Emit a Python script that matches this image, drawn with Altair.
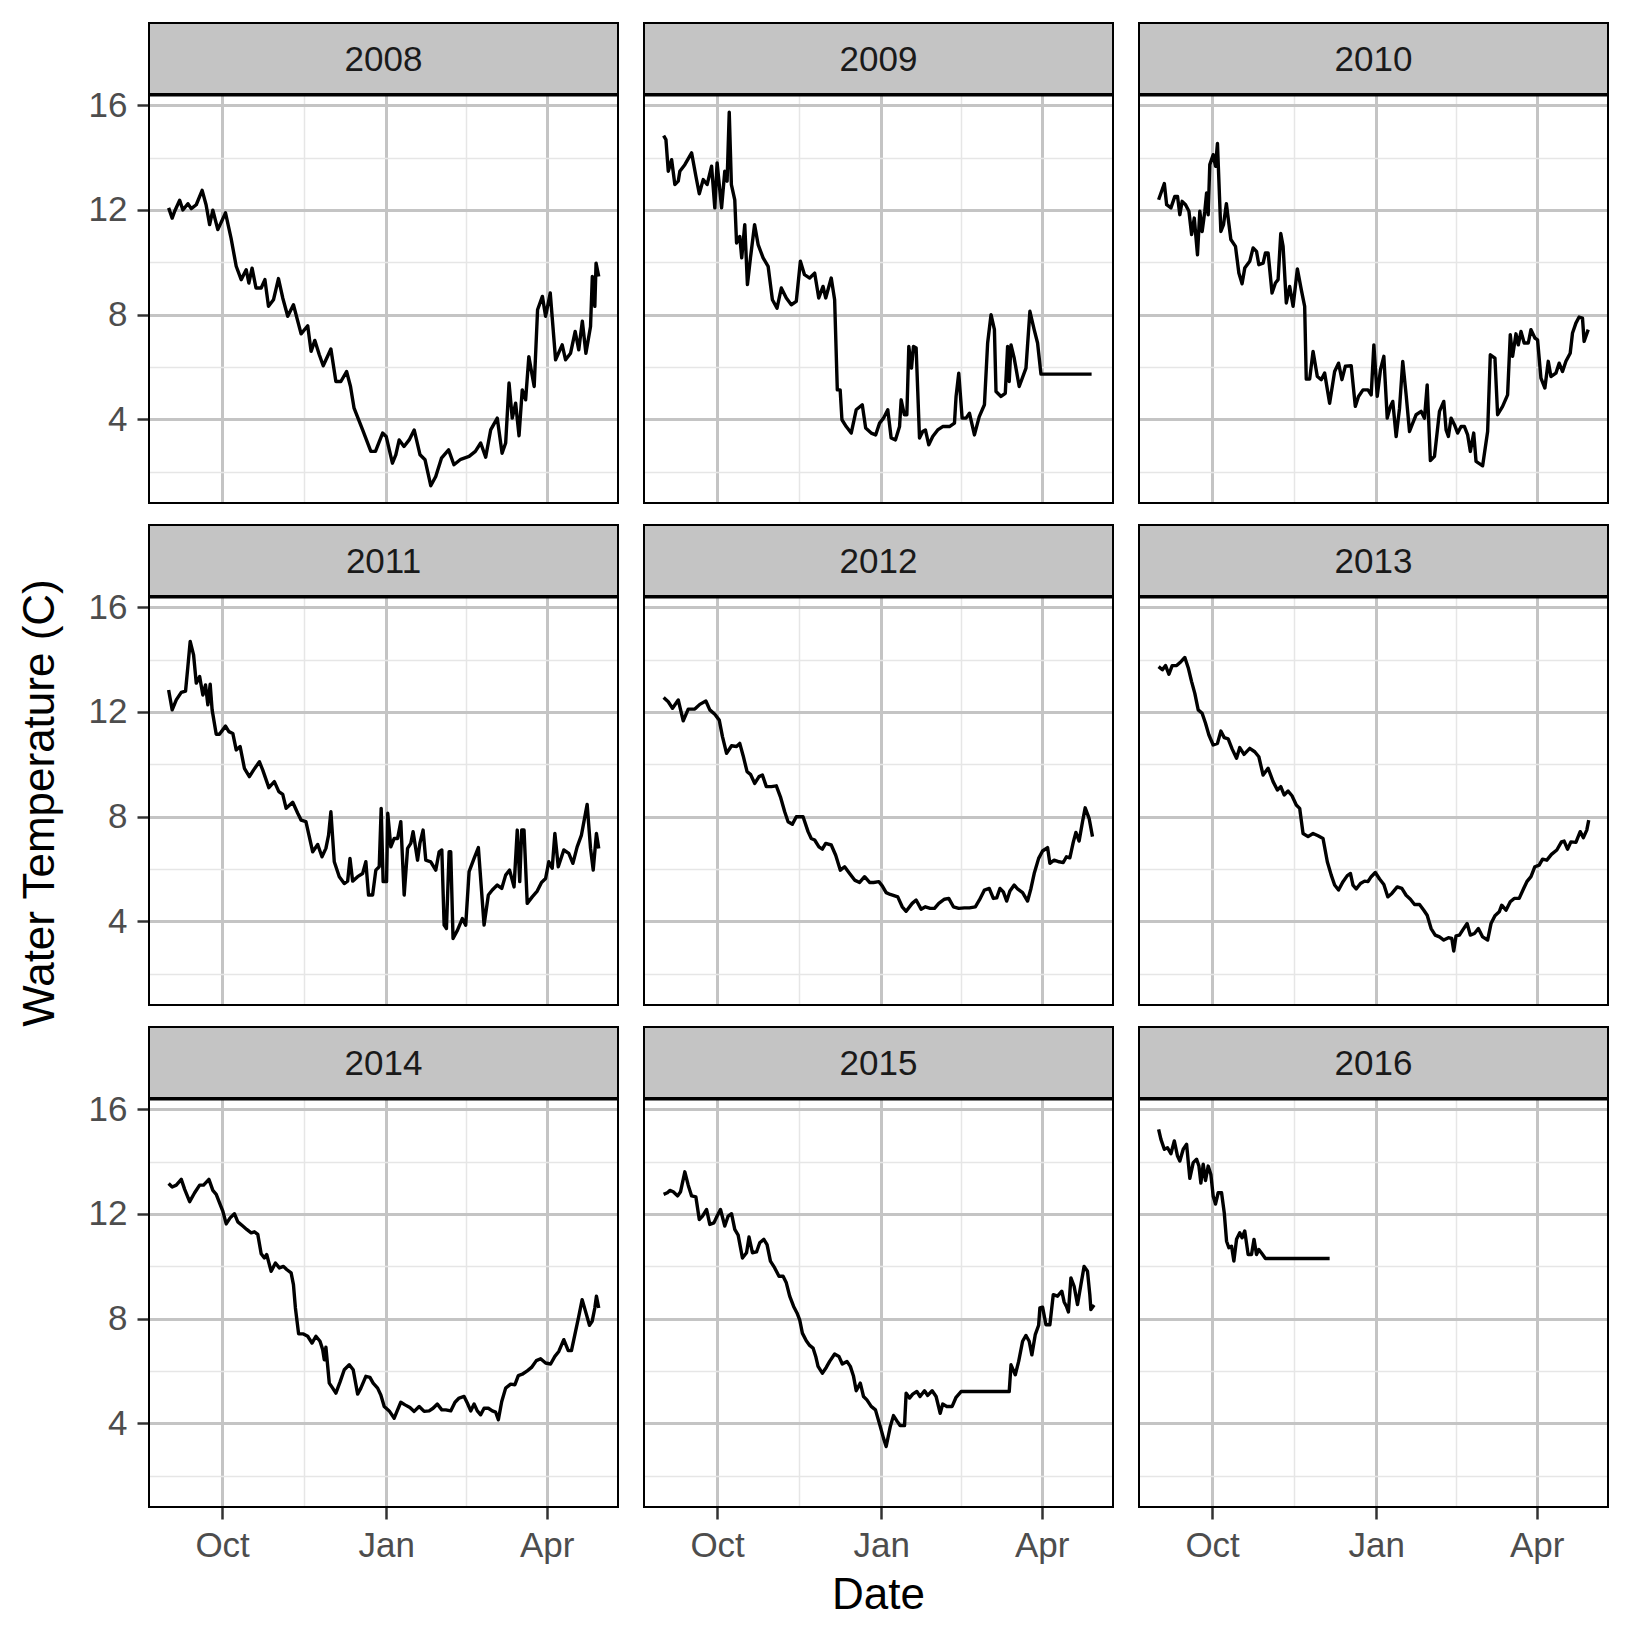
import altair as alt
import pandas as pd

# ---- data: (days since 1 Sep, water temperature C) ----
years = ["2008", "2009", "2010", "2011", "2012", "2013", "2014", "2015", "2016"]

series_2008 = [(0, 12.08), (2, 11.69), (3.4, 11.95), (6.2, 12.37), (8, 12.0), (10.8, 12.24), (12.7, 12.05),
               (15.5, 12.2), (18.8, 12.75), (21, 12.2), (23, 11.44), (24.8, 11.99), (27.6, 11.25), (31.9, 11.89),
               (35, 10.93), (37.9, 9.85), (40.7, 9.34), (43.5, 9.72), (45, 9.21), (46.8, 9.78), (49, 9.02),
               (51.9, 9.02), (54, 9.34), (56, 8.32), (58.8, 8.57), (61.6, 9.38), (64, 8.64), (66.8, 7.94),
               (70, 8.38), (74.3, 7.27), (78, 7.58), (79.9, 6.6), (82, 7.02), (84.5, 6.47), (86.7, 6.05),
               (91, 6.69), (93.8, 5.45), (96.6, 5.45), (99.8, 5.83), (102, 5.26), (104, 4.43), (108.8, 3.6),
               (113.4, 2.78), (116, 2.78), (120, 3.48), (122, 3.35), (125.5, 2.33), (127.4, 2.65), (129.3, 3.22),
               (132, 2.97), (134.9, 3.22), (137.7, 3.6), (141, 2.65), (143.8, 2.46), (147, 1.47), (149.8, 1.82),
               (153, 2.52), (157, 2.84), (160, 2.27), (163.8, 2.48), (168.5, 2.59), (172, 2.78), (175, 3.1),
               (177.8, 2.56), (180.6, 3.6), (184.3, 4.05), (187, 2.71), (189, 3.1), (190.9, 5.39), (192.7, 4.05),
               (194.6, 4.62), (196.5, 3.38), (198.3, 5.13), (200.2, 4.75), (202, 6.4), (205, 5.26), (206.9, 8.19),
               (209.6, 8.7), (211.4, 7.94), (214, 8.83), (217, 6.28), (220.7, 6.85), (222.6, 6.28), (225.4, 6.53),
               (228, 7.36), (230, 6.66), (232, 7.75), (234, 6.53), (236.6, 7.55), (237.6, 9.46), (239, 8.32),
               (239.7, 9.97), (241.2, 9.46)]

series_2009 = [(0, 14.84), (1.3, 14.69), (2.6, 13.48), (4.5, 13.92), (6.3, 12.97), (8.2, 13.1), (9.1, 13.48),
               (11.9, 13.73), (15.7, 14.18), (18.1, 13.29), (20, 12.62), (22.2, 13.16), (24.4, 12.97), (26.9, 13.67),
               (28.7, 12.08), (30, 13.8), (32.5, 12.08), (34.3, 13.48), (35.6, 13.1), (36.8, 15.73), (38, 12.97),
               (39.9, 12.39), (40.9, 10.74), (42.7, 10.99), (43.8, 10.17), (45.5, 11.44), (47, 9.15), (48.7, 10.17),
               (51, 11.44), (53, 10.68), (55.8, 10.17), (58.6, 9.85), (61, 8.57), (63.6, 8.25), (66, 9.02),
               (68.8, 8.64), (71.6, 8.38), (74.4, 8.51), (76.7, 10.04), (79, 9.53), (81.9, 9.4), (84.7, 9.59),
               (87, 8.64), (89.4, 9.08), (90.9, 8.64), (94, 9.4), (95.9, 8.57), (97.4, 5.13), (99, 5.13), (100, 3.99),
               (102.4, 3.73), (105.2, 3.48), (108, 4.37), (111.4, 4.56), (113.3, 3.67), (116.4, 3.48), (118.9, 3.41),
               (121.1, 3.86), (123.3, 4.05), (125.7, 4.37), (127.6, 3.29), (130, 3.22), (132.3, 3.73), (133.2, 4.75),
               (135, 4.18), (136.4, 4.18), (137.5, 6.79), (139, 5.96), (140.1, 6.79), (141.6, 6.73), (143.5, 3.29),
               (145.3, 3.54), (146.8, 3.6), (148.7, 3.03), (150.9, 3.35), (153.7, 3.6), (156.5, 3.73), (160.3, 3.73),
               (163.1, 3.86), (164, 4.88), (165.5, 5.77), (167.4, 4.05), (169.6, 4.05), (171.5, 4.24), (174.3, 3.41),
               (177, 4.11), (179.9, 4.56), (181.7, 6.92), (183.6, 8.0), (185.5, 7.43), (186.4, 5.07), (189.2, 4.88),
               (191.6, 5.0), (192.9, 6.79), (193.8, 5.45), (194.8, 6.85), (196.6, 6.34), (199.4, 5.26), (203.2, 5.96),
               (205.4, 8.13), (207.8, 7.43), (209.7, 6.92), (211.6, 5.73), (240, 5.73)]

series_2010 = [(0, 12.39), (3.2, 13.01), (4.5, 12.2), (6.9, 12.08), (9.1, 12.52), (10.6, 12.52), (11.9, 11.82),
               (13.2, 12.33), (15.1, 12.2), (17, 11.95), (18.5, 11.06), (20, 11.69), (21.8, 10.29), (23.1, 11.95),
               (24.4, 11.18), (25.9, 11.95), (26.9, 12.65), (27.8, 11.82), (28.7, 13.73), (30.6, 14.11), (31.9, 13.67),
               (33, 14.54), (34.9, 11.18), (36.4, 11.44), (38, 12.24), (40.5, 10.87), (43.1, 10.61), (45, 9.59),
               (46.8, 9.18), (48.3, 9.78), (51.1, 10.04), (53, 10.55), (54.9, 10.42), (56.2, 9.91), (58.6, 9.97),
               (59.9, 10.36), (61.4, 10.36), (63.6, 8.83), (65.5, 9.21), (67, 9.34), (68.5, 11.1), (69.8, 10.61),
               (71.6, 8.45), (73.5, 9.08), (75.4, 8.32), (77.8, 9.75), (80, 8.96), (81.9, 8.32), (82.8, 5.54),
               (84.7, 5.54), (86.6, 6.6), (89, 5.64), (91.2, 5.52), (93.1, 5.77), (95.9, 4.62), (98.7, 5.83),
               (100.9, 6.15), (102.8, 5.52), (104.7, 6.03), (108, 6.05), (110.3, 4.5), (112.1, 4.88), (114.6, 5.13),
               (117.4, 5.13), (119.2, 4.94), (120.7, 6.85), (122.6, 4.88), (124.4, 5.9), (126.3, 6.41), (128.2, 4.05),
               (130, 4.5), (131.3, 4.69), (133.2, 3.35), (135.1, 4.43), (136.9, 6.22), (138.8, 4.94), (140.7, 3.54),
               (142.5, 3.86), (144.4, 4.18), (147.2, 4.31), (149.1, 4.05), (150.6, 5.32), (152.4, 2.43), (154.7, 2.59),
               (157.5, 4.31), (159.9, 4.69), (161.2, 3.6), (162.5, 3.35), (164, 4.05), (165.9, 3.8), (167.7, 3.48),
               (169.6, 3.73), (171.5, 3.73), (173.3, 3.41), (174.8, 2.78), (176.7, 3.48), (178, 2.4), (181.7, 2.23),
               (184.5, 3.54), (186, 6.47), (188.6, 6.34), (190.1, 4.18), (192.9, 4.5), (195.7, 4.94), (197.2, 7.24),
               (198.5, 6.41), (200.4, 7.27), (201.7, 6.85), (203.2, 7.36), (205, 6.92), (207.3, 6.92), (208.8, 7.43),
               (211, 7.11), (212.5, 7.04), (214.4, 5.58), (216.6, 5.2), (218.5, 6.22), (220, 5.64), (222.8, 5.77),
               (224.6, 6.15), (226.5, 5.83), (228.4, 6.22), (230.8, 6.53), (232.1, 7.3), (234, 7.68), (235.8, 7.91),
               (237.7, 7.87), (238.6, 6.98), (240.9, 7.43)]

series_2011 = [(0, 12.84), (2, 12.08), (4.3, 12.46), (7.1, 12.75), (9.5, 12.8), (10.8, 13.73), (12.1, 14.69),
               (14, 14.18), (15.5, 13.1), (17.4, 13.35), (19.2, 12.65), (20.7, 13.03), (22, 12.27), (23.3, 13.06),
               (24.4, 12.08), (26.7, 11.15), (28.5, 11.15), (31.9, 11.46), (33.8, 11.25), (36, 11.18), (37.9, 10.55),
               (40.1, 10.68), (42.5, 9.85), (45.3, 9.53), (47.6, 9.78), (50.9, 10.1), (52.8, 9.78), (56.2, 9.11),
               (59.3, 9.34), (61.8, 8.96), (64, 8.85), (65.9, 8.32), (69.6, 8.55), (72.4, 8.13), (74.3, 7.87),
               (77, 7.81), (80.8, 6.66), (83.6, 6.94), (86, 6.47), (88.2, 6.79), (89.7, 7.3), (91, 8.19), (92.9, 6.28),
               (95.7, 5.71), (98.5, 5.45), (100.4, 5.54), (101.7, 6.41), (103.2, 5.54), (106, 5.71), (108.8, 5.83),
               (110.6, 6.28), (112.1, 5.01), (114.4, 5.01), (116.2, 5.96), (118.1, 6.09), (119.2, 8.32), (120.3, 5.52),
               (122.2, 5.52), (122.9, 8.13), (124.6, 6.85), (126.5, 7.17), (128.4, 7.17), (130.2, 7.81), (132.1, 5.01),
               (134, 6.79), (135.8, 6.98), (137.1, 7.43), (139.6, 6.34), (140.9, 6.98), (142.7, 7.49), (144.2, 6.34),
               (147, 6.28), (149.8, 5.96), (151.7, 6.66), (153.2, 6.73), (154.5, 3.86), (155.8, 3.73), (157.3, 6.66),
               (158.2, 6.66), (159.5, 3.35), (162, 3.67), (164.7, 4.11), (166.6, 3.86), (168.5, 5.9), (171.3, 6.41),
               (173.7, 6.82), (176.9, 3.86), (179.3, 5.01), (181.5, 5.2), (184.3, 5.39), (186.8, 5.26), (189, 5.77),
               (191.2, 5.96), (193.7, 5.32), (195.5, 7.49), (196.9, 5.52), (198, 7.49), (199.3, 7.49), (201.1, 4.69),
               (203.9, 4.94), (206.7, 5.16), (209.1, 5.49), (211.4, 5.64), (213.2, 6.28), (215.1, 6.03), (216.6, 7.36),
               (218.5, 6.09), (221.6, 6.73), (224.4, 6.6), (226.7, 6.22), (229.1, 6.85), (231.5, 7.3), (234.7, 8.47),
               (236.6, 6.79), (238.1, 5.96), (239.9, 7.36), (241.2, 6.79)]

series_2012 = [(0, 12.55), (2.6, 12.39), (5, 12.14), (8.2, 12.46), (11, 11.66), (13.8, 12.11), (17.5, 12.11),
               (20.3, 12.29), (23.7, 12.42), (25.9, 12.08), (28.7, 11.91), (31.2, 11.69), (33, 11.06), (35.3, 10.42),
               (38.1, 10.71), (40.9, 10.68), (42.7, 10.8), (44.6, 10.33), (46.8, 9.72), (48.7, 9.62), (51.1, 9.27),
               (53.5, 9.53), (55.4, 9.59), (57.6, 9.15), (60.4, 9.15), (63.2, 9.18), (65.5, 8.76), (67.9, 8.19),
               (69.8, 7.81), (72.2, 7.71), (74.4, 8.0), (78.2, 8.0), (81, 7.43), (82.8, 7.17), (84.7, 7.11),
               (87.1, 6.85), (89, 6.76), (90.9, 6.98), (94, 6.92), (96.5, 6.53), (99.1, 5.96), (101.5, 6.09),
               (104.3, 5.83), (107.1, 5.58), (109.9, 5.49), (112.7, 5.71), (115.5, 5.49), (117.7, 5.49), (120.7, 5.52),
               (122.6, 5.36), (124.8, 5.1), (127.1, 5.03), (131.3, 4.94), (133.8, 4.56), (136, 4.39), (139.4, 4.69),
               (141.6, 4.82), (144.4, 4.47), (146.8, 4.56), (149.5, 4.5), (151.9, 4.5), (154.3, 4.69), (157.5, 4.85),
               (159.9, 4.88), (162.5, 4.56), (165.5, 4.5), (168.7, 4.52), (171.5, 4.52), (174.8, 4.56), (177.1, 4.82),
               (179.9, 5.2), (182.6, 5.26), (184.9, 4.88), (186.8, 4.9), (188.6, 5.26), (190.5, 5.13), (192.4, 4.78),
               (194.2, 5.16), (196.6, 5.39), (198.5, 5.24), (201.3, 5.1), (204.1, 4.78), (206, 5.26), (207.8, 5.83),
               (210.3, 6.41), (212.5, 6.69), (215.3, 6.82), (216.6, 6.22), (219, 6.34), (221.8, 6.28), (224.1, 6.25),
               (225.9, 6.47), (227.8, 6.43), (229.7, 7.02), (231.2, 7.4), (233, 7.07), (234.9, 7.81), (236.4, 8.34),
               (238.6, 7.94), (240.5, 7.24)]

series_2013 = [(0, 13.73), (2.1, 13.61), (3.9, 13.77), (5.8, 13.44), (7.6, 13.77), (10.1, 13.77), (12.5, 13.92),
               (14.7, 14.08), (16.6, 13.69), (18.5, 13.16), (20.3, 12.71), (22.2, 12.08), (24.4, 11.95), (26.3, 11.57),
               (28.2, 11.12), (30.6, 10.74), (33, 10.8), (34.9, 11.27), (36.8, 11.02), (39, 10.97), (41.2, 10.59),
               (43.7, 10.23), (45.5, 10.64), (47.9, 10.38), (51.1, 10.61), (53.9, 10.48), (56.2, 10.29), (58.6, 9.59),
               (61.4, 9.85), (64.2, 9.34), (66.6, 9.02), (68.5, 9.15), (70.4, 8.83), (72.6, 8.98), (74.8, 8.8),
               (77.2, 8.45), (79.1, 8.32), (81, 7.36), (83.8, 7.24), (86.6, 7.36), (89.4, 7.27), (92.2, 7.17),
               (94.6, 6.28), (96.8, 5.77), (98.7, 5.39), (100.9, 5.2), (103.4, 5.52), (105.8, 5.75), (107.6, 5.83),
               (109, 5.39), (110.8, 5.24), (113.2, 5.45), (115.5, 5.54), (117.4, 5.52), (119.2, 5.71), (121.5, 5.87),
               (123.9, 5.62), (126.3, 5.41), (128.5, 4.94), (130.8, 5.07), (133.8, 5.32), (136.4, 5.26), (138.8, 5.0),
               (141.2, 4.85), (143.5, 4.65), (146.3, 4.65), (148.7, 4.43), (150.6, 4.24), (152.8, 3.73), (155.1, 3.48),
               (157.5, 3.41), (159.9, 3.29), (162.5, 3.38), (164.4, 3.35), (165.5, 2.87), (166.8, 3.45), (168.7, 3.48),
               (170.5, 3.67), (173, 3.92), (174.8, 3.48), (177.1, 3.54), (179.3, 3.73), (181.7, 3.41), (184.5, 3.29),
               (186.4, 3.92), (188.6, 4.22), (191, 4.37), (192.4, 4.62), (194.8, 4.43), (197.2, 4.75), (199.4, 4.88),
               (202.2, 4.88), (204.7, 5.26), (206.5, 5.52), (208.8, 5.71), (211, 6.09), (213.4, 6.15), (215.3, 6.38),
               (217.7, 6.34), (220.3, 6.56), (223.3, 6.73), (225.9, 7.04), (227.4, 7.07), (229.3, 6.76), (231.2, 7.04),
               (234, 7.02), (236.4, 7.43), (238.2, 7.2), (240.1, 7.49), (241.2, 7.87)]

series_2014 = [(0, 13.16), (2, 13.03), (4.3, 13.1), (7.1, 13.32), (9, 12.94), (11.8, 12.47), (14.6, 12.81),
               (17.4, 13.1), (19.6, 13.1), (22.6, 13.32), (24.8, 12.9), (26.7, 12.75), (28.5, 12.43), (30.4, 12.11),
               (32.3, 11.62), (34.5, 11.85), (36.9, 12.01), (38.8, 11.7), (41.6, 11.54), (43.8, 11.41), (46.3, 11.28),
               (48.1, 11.32), (50, 11.22), (51.9, 10.48), (53.7, 10.32), (55, 10.45), (57.5, 9.81), (59.9, 10.13),
               (62.1, 9.94), (64.4, 10.0), (66.2, 9.88), (68.7, 9.75), (70, 9.3), (71.1, 8.41), (72.9, 7.42),
               (75.6, 7.42), (78, 7.33), (80.4, 7.07), (82.6, 7.33), (84.9, 7.14), (86.4, 6.82), (87.3, 6.43),
               (88.2, 6.91), (90.1, 5.54), (92, 5.35), (93.8, 5.16), (96.1, 5.58), (98.5, 6.05), (101.3, 6.24),
               (103.5, 6.05), (106, 5.12), (107.8, 5.35), (110.6, 5.8), (112.9, 5.76), (114.7, 5.54), (117.2, 5.35),
               (119, 5.09), (120.9, 4.65), (123.7, 4.48), (126.5, 4.2), (128.4, 4.52), (130.2, 4.81), (132.6, 4.71),
               (135.3, 4.61), (137.7, 4.46), (140.5, 4.65), (143.3, 4.46), (146.1, 4.48), (148.3, 4.58), (150.7, 4.74),
               (153.2, 4.52), (155.4, 4.52), (158.2, 4.48), (160.6, 4.81), (162.9, 4.97), (165.7, 5.03), (167.5, 4.78),
               (169.4, 4.48), (171.3, 4.74), (173.1, 4.48), (175, 4.33), (176.9, 4.58), (179.3, 4.58), (181.5, 4.48),
               (183.4, 4.43), (184.9, 4.14), (186.8, 4.84), (189, 5.35), (191.8, 5.5), (194.2, 5.48), (196.1, 5.83),
               (198.3, 5.88), (201.1, 6.01), (203.5, 6.14), (206.2, 6.4), (208.6, 6.47), (211.4, 6.31), (214.2, 6.27),
               (216.6, 6.56), (218.8, 6.75), (221.6, 7.2), (224.1, 6.78), (225.9, 6.78), (228.2, 7.52), (230, 8.09),
               (231.9, 8.73), (233.8, 8.28), (236, 7.75), (237.5, 7.9), (239, 8.41), (239.9, 8.86), (241.2, 8.41)]

series_2015 = [(0, 12.75), (2.1, 12.81), (3.5, 12.9), (5.4, 12.85), (7.8, 12.69), (9.5, 12.85), (11.9, 13.61),
               (13.8, 13.1), (15.7, 12.69), (18.1, 12.65), (20, 11.79), (21.8, 11.92), (24.1, 12.17), (25.9, 11.6),
               (28.2, 11.66), (30, 11.92), (31.9, 12.17), (34.3, 11.54), (36.2, 11.92), (38.1, 12.01), (39.9, 11.41),
               (41.8, 11.19), (44.2, 10.32), (46.5, 10.52), (47.9, 11.12), (49.8, 10.52), (52.1, 10.55), (53.9, 10.9),
               (56.2, 11.03), (58, 10.83), (59.9, 10.2), (62.3, 9.94), (64.7, 9.62), (67, 9.62), (68.8, 9.37),
               (70.7, 8.86), (72.9, 8.47), (74.8, 8.22), (76.3, 7.96), (77.8, 7.45), (80, 7.16), (81.9, 6.98),
               (83.8, 6.88), (85.3, 6.56), (86.6, 6.18), (89, 5.92), (91.2, 6.14), (93.1, 6.37), (95.9, 6.65),
               (98.3, 6.56), (100.2, 6.27), (102.8, 6.37), (104.7, 6.18), (106.5, 5.8), (108, 5.25), (110.3, 5.54),
               (112.1, 5.03), (114, 4.9), (116.4, 4.65), (118.8, 4.52), (121.5, 3.88), (123.3, 3.44), (124.8, 3.12),
               (127.1, 3.88), (128.9, 4.3), (130.8, 4.1), (132.6, 3.92), (135.1, 3.92), (136, 5.16), (137.9, 4.97),
               (139.7, 5.12), (142, 5.22), (143.8, 5.03), (146.3, 5.25), (148.1, 5.07), (150.6, 5.25), (152.8, 5.03),
               (155.1, 4.39), (156.5, 4.74), (158.8, 4.65), (161.8, 4.65), (164, 5.0), (166.8, 5.22), (193.8, 5.22),
               (194.8, 6.24), (197.2, 5.86), (199.1, 6.37), (201.3, 7.14), (203.2, 7.36), (205, 7.14), (206.5, 6.62),
               (208.4, 7.39), (210.3, 7.75), (211, 8.41), (212.5, 8.44), (214.4, 7.77), (216.6, 7.77), (218.5, 8.92),
               (220.9, 8.86), (223.3, 9.05), (224.6, 8.64), (225.9, 8.47), (227, 8.26), (228.4, 9.56), (230.2, 9.24),
               (232.1, 8.54), (234, 9.3), (235.8, 10.0), (237.7, 9.81), (239, 8.92), (239.6, 8.35), (241.4, 8.52)]

series_2016 = [(0, 15.23), (1.3, 14.85), (3.2, 14.47), (5, 14.53), (6.9, 14.3), (8.8, 14.79), (10.6, 14.21),
               (11.9, 14.02), (13.8, 14.47), (15.7, 14.66), (17.5, 13.36), (19.4, 13.96), (21.3, 14.09), (22.6, 13.83),
               (23.7, 13.18), (25, 13.9), (26.3, 13.28), (27.8, 13.83), (29.3, 13.51), (30.6, 12.68), (31.9, 12.38),
               (33.4, 12.81), (35.3, 12.81), (36.8, 12.05), (38.1, 10.96), (39.4, 10.71), (40.9, 10.77), (42.2, 10.2),
               (43.7, 11.03), (45.5, 11.28), (46.8, 11.09), (48.3, 11.35), (50.2, 10.45), (52.1, 10.45), (53.5, 11.03),
               (54.9, 10.45), (56.2, 10.64), (58, 10.48), (59.9, 10.3), (95.9, 10.3)]

y_ticks = [2, 4, 6, 8, 10, 12, 14, 16]
x_tick_dates = ["2001-10-01", "2001-11-16", "2002-01-01", "2002-02-15", "2002-04-01"]
x_title = "Date"
y_title = "Water Temperature (C)"

# ---- build tables ----
all_series = [series_2008, series_2009, series_2010, series_2011, series_2012,
              series_2013, series_2014, series_2015, series_2016]
base = pd.Timestamp("2001-09-01")


def to_ms(ts):
    return int(ts.value // 10**6)


x_domain = [to_ms(base + pd.Timedelta(days=-11)), to_ms(base + pd.Timedelta(days=252))]
x_values = [to_ms(pd.Timestamp(s)) for s in x_tick_dates]

W = 469
H = 480
STRIP = 71
FONT = "Liberation Sans"
TICKFONT = 35
MAJOR = "#c4c4c4"
MINOR = "#e6e6e6"

x_major = "utcdate(datum.value) == 1"
y_major = "datum.value % 4 == 0"


def make_x_axis(show):
    kw = dict(
        values=x_values,
        gridColor={"condition": {"test": x_major, "value": MAJOR}, "value": MINOR},
        gridWidth={"condition": {"test": x_major, "value": 3}, "value": 1.5},
        domain=False, title=None,
    )
    if show:
        kw.update(
            labelExpr="utcdate(datum.value) == 1 ? utcFormat(datum.value, '%b') : ''",
            tickColor={"condition": {"test": "utcdate(datum.value) != 1", "value": "transparent"},
                       "value": "#333333"},
            tickSize=12, tickWidth=2.5, labelPadding=9, labelFontSize=TICKFONT, labelFont=FONT,
            labelColor="#4d4d4d", labelOverlap=False, labelFlush=False,
        )
    else:
        kw.update(labels=False, ticks=False)
    return alt.Axis(**kw)


def make_y_axis(show):
    kw = dict(
        values=y_ticks,
        gridColor={"condition": {"test": y_major, "value": MAJOR}, "value": MINOR},
        gridWidth={"condition": {"test": y_major, "value": 3}, "value": 1.5},
        domain=False, title=None,
    )
    if show:
        kw.update(
            labelExpr="datum.value % 4 == 0 ? datum.label : ''",
            tickColor={"condition": {"test": "datum.value % 4 != 0", "value": "transparent"},
                       "value": "#333333"},
            tickSize=12, tickWidth=2.5, labelPadding=10, labelFontSize=TICKFONT, labelFont=FONT,
            labelColor="#4d4d4d", labelOverlap=False,
        )
    else:
        kw.update(labels=False, ticks=False)
    return alt.Axis(**kw)


def panel(idx):
    yr = years[idx]
    ser = all_series[idx]
    r, c = divmod(idx, 3)
    d = pd.DataFrame({
        "date": [to_ms(base + pd.Timedelta(days=s)) for s, _ in ser],
        "temp": [t for _, t in ser],
    })
    lab = pd.DataFrame({"year": [yr]})
    line = alt.Chart(d).mark_line(color="black", strokeWidth=3.4, strokeJoin="round").encode(
        x=alt.X("date:T", scale=alt.Scale(type="utc", domain=x_domain, nice=False), axis=make_x_axis(r == 2)),
        y=alt.Y("temp:Q", scale=alt.Scale(domain=[0.81, 19.14], nice=False, zero=False), axis=make_y_axis(c == 0)),
    )
    strip = alt.Chart(lab).mark_rect(fill="#c4c4c4", stroke="black", strokeWidth=2).encode(
        x=alt.value(0), x2=alt.value(W), y=alt.value(0), y2=alt.value(STRIP))
    strip_text = alt.Chart(lab).mark_text(
        font=FONT, fontSize=35, color="#1a1a1a", baseline="alphabetic", align="center"
    ).encode(text="year:N", x=alt.value(W / 2), y=alt.value(48))
    border = alt.Chart(lab).mark_rect(filled=False, stroke="black", strokeWidth=2).encode(
        x=alt.value(0), x2=alt.value(W), y=alt.value(STRIP + 1.5), y2=alt.value(H))
    return alt.layer(line, strip, strip_text, border).properties(width=W, height=H)


grid = alt.vconcat(
    *[alt.hconcat(*[panel(r * 3 + c) for c in range(3)], spacing=22) for r in range(3)],
    spacing=18,
)

ytitle = alt.Chart(pd.DataFrame({"label": [y_title]})).mark_text(
    angle=270, align="center", baseline="alphabetic", fontSize=44, font=FONT, color="black"
).encode(text="label:N", x=alt.value(53), y=alt.value(780)).properties(width=76, height=H * 3 + 40)

xtitle = alt.Chart(pd.DataFrame({"label": [x_title]})).mark_text(
    align="center", baseline="alphabetic", fontSize=44, font=FONT, color="black"
).encode(text="label:N", x=alt.value(877.5), y=alt.value(44)).properties(width=1600, height=58)

chart = alt.vconcat(
    alt.hconcat(ytitle, grid, spacing=9),
    xtitle,
    spacing=0,
).properties(
    padding={"left": 0, "top": 21, "right": 0, "bottom": 0},
    background="white",
).configure_view(stroke="transparent")

chart.save("out.html", embed_options={"renderer": "svg", "actions": False})
